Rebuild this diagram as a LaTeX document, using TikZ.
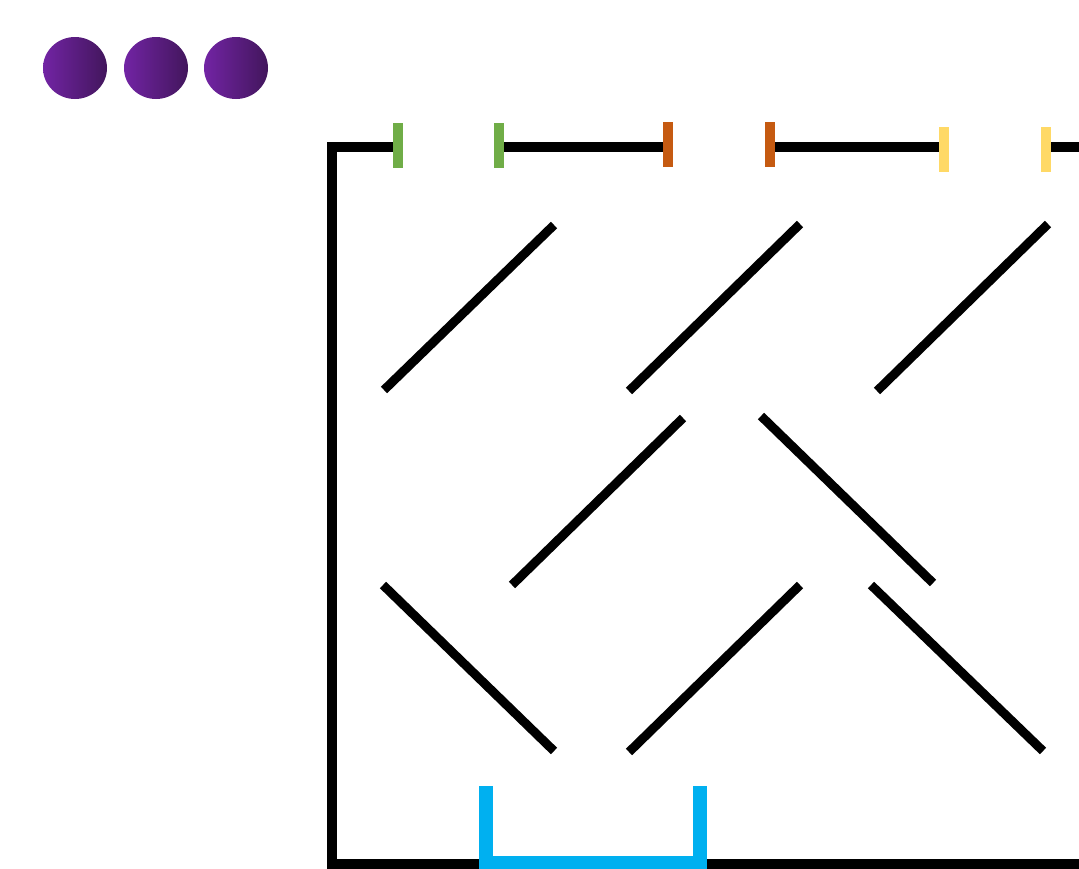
\documentclass[tikz,border=0pt]{standalone}
\usepackage{tikz}
\definecolor{ballleft}{RGB}{114,36,164}
\definecolor{ballright}{RGB}{66,22,92}
\definecolor{gatgreen}{RGB}{112,173,71}
\definecolor{gatorange}{RGB}{197,90,17}
\definecolor{gatyellow}{RGB}{255,217,102}
\definecolor{cupblue}{RGB}{0,176,240}
\usetikzlibrary{calc}

\begin{document}
\begin{tikzpicture}[
  x=1pt,y=-1pt,
  wall/.style={draw=black,line width=9.5pt},
  baffle/.style={draw=black,line width=9pt},
  gate/.style={line width=10pt},
  cup/.style={draw=cupblue,line width=14pt},
  ball/.style={shading=axis,left color=ballleft,right color=ballright},
]
  \useasboundingbox (0,0) rectangle (1079,868);

  % balls waiting
  \foreach \bx in {75,156,236}
    \shade[ball] (\bx,68) ellipse [x radius=32,y radius=31];

  % outer frame and top rails
  \draw[wall] (398,147) -- (332,147) -- (332,864) -- (1090,864);
  \draw[wall] (499,147) -- (668,147);
  \draw[wall] (770,147) -- (944,147);
  \draw[wall] (1046,147) -- (1090,147);

  % baffles, top row
  \draw[baffle] (384,390) -- (554,225);
  \draw[baffle] (629,391) -- (800,224);
  \draw[baffle] (877,391) -- (1048,224);

  % baffles, middle row
  \draw[baffle] (512,585) -- (683,418);
  \draw[baffle] (761,416) -- (933,583);

  % baffles, bottom row
  \draw[baffle] (383,585) -- (554,751);
  \draw[baffle] (629,752) -- (800,585);
  \draw[baffle] (871,585) -- (1043,751);

  % gates
  \draw[gate,gatgreen] (398,123) -- (398,168);
  \draw[gate,gatgreen] (499,123) -- (499,168);
  \draw[gate,gatorange] (668,122) -- (668,167);
  \draw[gate,gatorange] (770,122) -- (770,167);
  \draw[gate,gatyellow] (944,127) -- (944,172);
  \draw[gate,gatyellow] (1046,127) -- (1046,172);

  % catching cup
  \draw[cup] (486,786) -- (486,863) -- (700,863) -- (700,786);
\end{tikzpicture}
\end{document}
